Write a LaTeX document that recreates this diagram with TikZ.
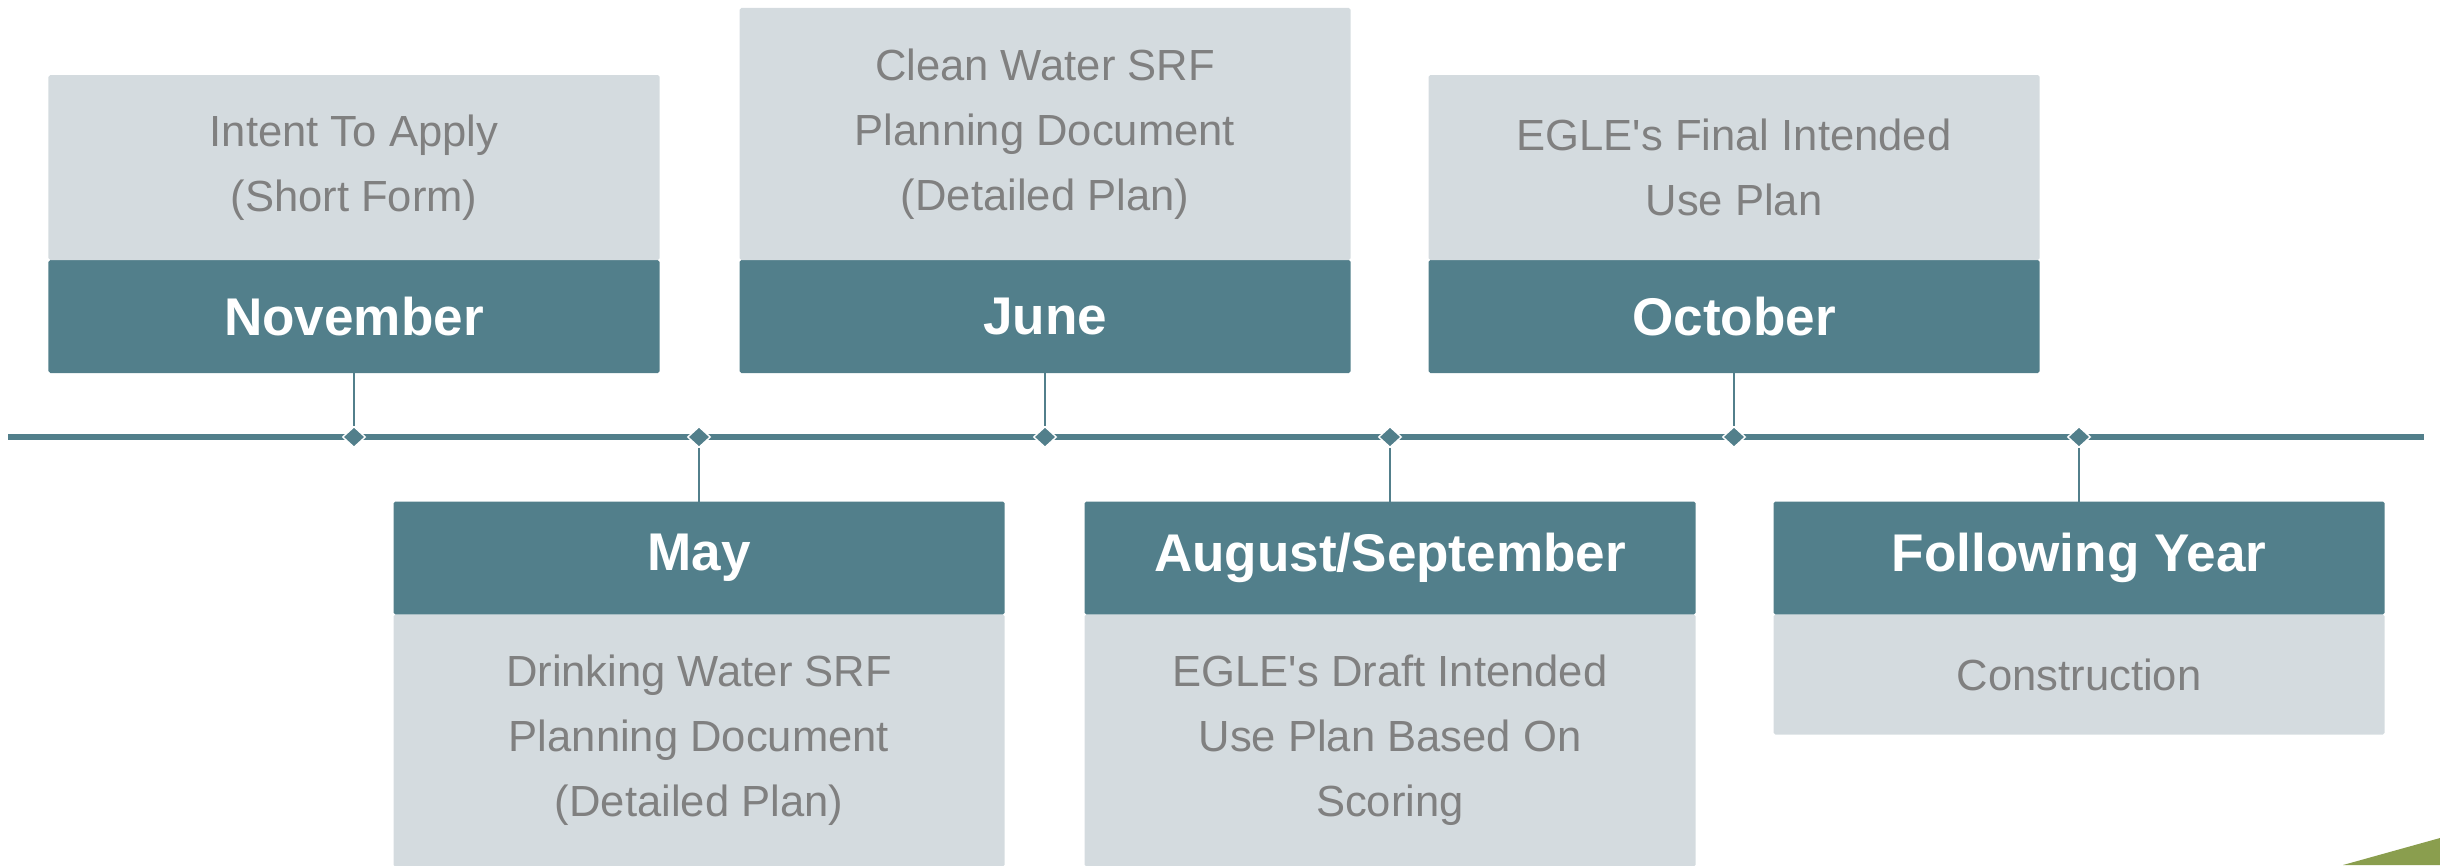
\documentclass[tikz,border=0pt]{standalone}
\usepackage{fontspec}
\setmainfont{Liberation Sans}
\usetikzlibrary{positioning,shapes.geometric}

\definecolor{tealhead}{RGB}{82,127,139}
\definecolor{graybody}{RGB}{212,219,223}
\definecolor{graytext}{RGB}{128,128,128}
\definecolor{leafgreen}{RGB}{138,158,78}

\tikzset{
    monthbox/.style={fill=tealhead, text=white, minimum width=6.11cm, minimum height=1.13cm, inner sep=0pt, outer sep=0pt, rounded corners=0.5pt, font=\fontsize{15.1}{18}\selectfont\bfseries},
    notebox/.style={fill=graybody, text=graytext, minimum width=6.11cm, inner sep=0pt, outer sep=0pt, rounded corners=0.5pt, align=center, font=\fontsize{12.4}{18.5}\selectfont},
    stepmark/.style={diamond, fill=tealhead, draw=white, line width=0.4pt, minimum width=0.23cm, minimum height=0.21cm, inner sep=0pt},
    stem/.style={draw=tealhead, line width=0.6pt}
}

\begin{document}
\begin{tikzpicture}
    % Bildgroesse
        \useasboundingbox (0, 0) rectangle (24.4, 8.65);

    % Zeitleiste
        \coordinate (tl-start) at (0.08, 4.28);
        \coordinate (tl-end) at (24.24, 4.28);
        \draw[tealhead, line width=1.7pt] (tl-start) -- (tl-end);

    % Markierungen
        \node[stepmark] (d-nov) at (3.54, 4.28) {};
        \node[stepmark] (d-may) at (6.99, 4.28) {};
        \node[stepmark] (d-jun) at (10.45, 4.28) {};
        \node[stepmark] (d-aug) at (13.90, 4.28) {};
        \node[stepmark] (d-oct) at (17.34, 4.28) {};
        \node[stepmark] (d-fol) at (20.79, 4.28) {};

    % obere Kaesten
        \node[monthbox] (nov) at (3.54, 5.485) {November};
        \node[notebox, minimum height=1.85cm, above=0pt of nov] (nov-txt) {Intent To Apply\\(Short Form)};
        \node[monthbox] (jun) at (10.45, 5.485) {June};
        \node[notebox, minimum height=2.52cm, above=0pt of jun] (jun-txt) {Clean Water SRF\\Planning Document\\(Detailed Plan)};
        \node[monthbox] (oct) at (17.34, 5.485) {October};
        \node[notebox, minimum height=1.85cm, above=0pt of oct] (oct-txt) {EGLE\textquotesingle s Final Intended\\Use Plan};

    % untere Kaesten
        \node[monthbox] (may) at (6.99, 3.07) {May};
        \node[notebox, minimum height=2.52cm, below=0pt of may] (may-txt) {Drinking Water SRF\\Planning Document\\(Detailed Plan)};
        \node[monthbox] (aug) at (13.90, 3.07) {August/September};
        \node[notebox, minimum height=2.52cm, below=0pt of aug] (aug-txt) {EGLE\textquotesingle s Draft Intended\\Use Plan Based On\\Scoring};
        \node[monthbox] (fol) at (20.79, 3.07) {Following Year};
        \node[notebox, minimum height=1.20cm, below=0pt of fol] (fol-txt) {Construction};

    % Verbindungen
        \draw[stem] (nov.south) -- (d-nov.north);
        \draw[stem] (jun.south) -- (d-jun.north);
        \draw[stem] (oct.south) -- (d-oct.north);
        \draw[stem] (may.north) -- (d-may.south);
        \draw[stem] (aug.north) -- (d-aug.south);
        \draw[stem] (fol.north) -- (d-fol.south);

    % Ecke unten rechts
        \fill[leafgreen] (23.43, 0) -- (24.4, 0.27) -- (24.4, 0) -- cycle;
\end{tikzpicture}
\end{document}
